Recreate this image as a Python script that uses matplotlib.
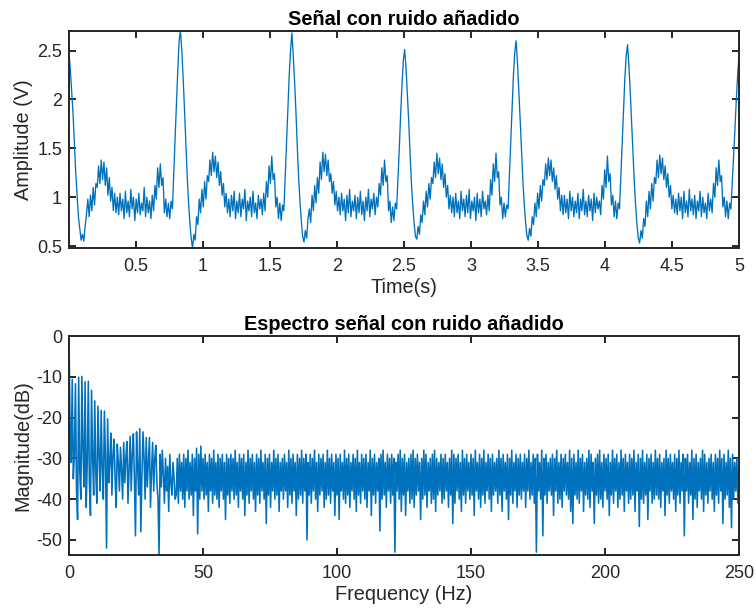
import numpy as np
import matplotlib.pyplot as plt
from matplotlib.ticker import FixedLocator, FormatStrFormatter

# ---- Top panel: noisy ECG, samples 0.01 s apart, one list per heartbeat ----
beat_1 = [2.47, 2.30, 2.08, 1.85, 1.55, 1.25, 1.02, 0.80, 0.68, 0.56, 0.62, 0.55, 0.70,
          0.82, 0.98, 0.80, 1.02, 0.86, 1.10, 0.92, 1.14,
          1.10, 1.32, 1.14, 1.38, 1.18, 1.36, 1.12, 1.30,
          1.02, 1.20, 0.96, 1.10, 0.86, 1.04, 0.84,
          1.00, 0.82, 1.04, 0.86, 0.98, 0.78, 1.06, 0.84, 0.96, 0.80, 1.08, 0.88, 1.00, 0.76,
          0.98, 0.84, 1.04, 0.82, 0.94, 0.86, 1.10, 0.80, 1.00, 0.84, 0.96, 0.78, 1.02, 0.86,
          1.12, 0.98, 1.30, 1.10, 1.34, 1.12, 1.20,
          0.84, 0.98, 0.80, 0.94, 0.78, 0.96, 0.88,
          1.25, 1.60, 1.95, 2.30, 2.60]
beat_2 = [2.70, 2.50, 2.22, 1.90, 1.55, 1.22, 0.95, 0.74, 0.58, 0.48, 0.62, 0.56, 0.80,
          0.72, 0.98, 0.84, 1.08, 0.90, 1.16, 0.98, 1.22,
          1.16, 1.38, 1.22, 1.46, 1.26, 1.42, 1.20, 1.36,
          1.12, 1.26, 1.02, 1.14, 0.90, 1.04, 0.84,
          0.98, 0.80, 1.02, 0.86, 1.06, 0.78, 0.96, 0.84, 1.04, 0.80, 0.98, 0.88, 1.08, 0.76,
          0.96, 0.86, 1.00, 0.80, 1.06, 0.84, 0.94, 0.78, 1.02, 0.88, 0.98, 0.82, 1.04, 0.86,
          1.16, 1.00, 1.32, 1.14, 1.42, 1.18, 1.24,
          0.90, 1.00, 0.78, 0.94, 0.76, 0.92, 0.86,
          1.20, 1.55, 1.90, 2.25, 2.50]
beat_3 = [2.68, 2.45, 2.18, 1.88, 1.52, 1.20, 0.96, 0.76, 0.60, 0.54, 0.66, 0.58, 0.78,
          0.88, 0.74, 1.02, 0.86, 1.12, 0.94, 1.20, 1.04,
          1.36, 1.18, 1.46, 1.26, 1.44, 1.22, 1.38, 1.16,
          1.24, 1.04, 1.16, 0.92, 1.06, 0.86, 1.00,
          0.82, 1.04, 0.86, 0.98, 0.76, 1.02, 0.84, 1.08, 0.80, 0.96, 0.86, 1.02, 0.78, 1.00,
          0.84, 1.06, 0.82, 0.96, 0.76, 1.00, 0.86, 1.08, 0.80, 0.98, 0.88, 1.04, 0.82, 1.00, 0.90,
          1.14, 1.02, 1.30, 1.12, 1.38, 1.16, 1.22,
          0.86, 0.96, 0.74, 0.90, 0.76, 0.94, 0.88,
          1.18, 1.50, 1.85, 2.15, 2.40]
beat_4 = [2.51, 2.32, 2.05, 1.78, 1.45, 1.15, 0.92, 0.74, 0.60, 0.57, 0.70, 0.62, 0.82,
          0.74, 0.96, 0.82, 1.06, 0.90, 1.14, 0.98, 1.20,
          1.14, 1.36, 1.20, 1.45, 1.24, 1.40, 1.18, 1.34,
          1.10, 1.24, 1.00, 1.12, 0.88, 1.02, 0.84,
          1.00, 0.80, 1.04, 0.84, 0.96, 0.78, 1.06, 0.86, 0.98, 0.80, 1.02, 0.84, 1.08, 0.78,
          0.96, 0.86, 1.00, 0.76, 1.04, 0.84, 0.98, 0.80, 1.06, 0.88, 0.96, 0.82, 1.02, 0.86,
          1.18, 1.02, 1.34, 1.16, 1.45, 1.20, 1.26,
          0.92, 1.00, 0.78, 0.94, 0.80, 0.92, 0.88,
          1.22, 1.55, 1.92, 2.25, 2.48]
beat_5 = [2.60, 2.38, 2.10, 1.80, 1.48, 1.18, 0.94, 0.75, 0.61, 0.56, 0.68, 0.60, 0.80,
          0.72, 0.94, 0.80, 1.04, 0.88, 1.12, 0.96, 1.18,
          1.12, 1.34, 1.18, 1.40, 1.22, 1.38, 1.16, 1.30,
          1.08, 1.22, 0.98, 1.10, 0.86, 1.02, 0.82,
          1.02, 0.84, 0.98, 0.78, 1.06, 0.86, 1.00, 0.80, 0.96, 0.84, 1.04, 0.78, 0.98, 0.86,
          1.08, 0.82, 0.96, 0.80, 1.02, 0.86, 0.98, 0.76, 1.04, 0.84, 1.00, 0.88, 0.96, 0.82,
          1.12, 0.98, 1.28, 1.10, 1.42, 1.16, 1.24,
          0.92, 1.02, 0.80, 0.96, 0.78, 0.94, 0.88,
          1.22, 1.55, 1.90, 2.22, 2.45]
beat_6 = [2.56, 2.35, 2.08, 1.78, 1.46, 1.16, 0.92, 0.72, 0.58, 0.53, 0.66, 0.58, 0.78,
          0.70, 0.96, 0.80, 1.06, 0.88, 1.14, 0.96, 1.20,
          1.14, 1.38, 1.20, 1.43, 1.24, 1.40, 1.18, 1.32,
          1.10, 1.24, 1.00, 1.12, 0.88, 1.02, 0.84,
          0.98, 0.82, 1.04, 0.86, 1.00, 0.78, 1.06, 0.84, 0.96, 0.80, 1.08, 0.86, 0.98, 0.82,
          1.02, 0.78, 0.96, 0.86, 1.06, 0.80, 1.00, 0.84, 0.94, 0.78, 1.04, 0.86, 0.98, 0.84,
          1.14, 1.00, 1.30, 1.12, 1.38, 1.16, 1.22,
          0.90, 1.00, 0.80, 0.96, 0.78, 0.94, 0.88,
          1.15, 1.40, 1.70, 2.00, 2.25, 2.45]

amplitude = np.array(beat_1 + beat_2 + beat_3 + beat_4 + beat_5 + beat_6)
time = np.linspace(0.002, 5.0, len(amplitude))

# ---- Bottom panel: magnitude spectrum (dB), bins 0.4 Hz apart ----
spec_low = [  # 0 - 40 Hz, heart-rate harmonics every 1.2 Hz
    0, -24, -31, -10.6, -35, -29, -11.7, -38, -45, -10.1, -33, -40, -9.9, -28, -37, -11.2, -42, -31, -11.1, -36, -44, -13.3, -30, -39, -15.9,
    -34, -41, -17.2, -29, -38, -18.2, -33, -40, -18.4, -30, -52, -20.3, -36, -31, -23.8, -39, -29, -25.3, -35, -42, -26.5, -31, -38, -27.3, -33,
    -40, -26.1, -36, -30, -25.9, -41, -33, -24.6, -38, -29, -24.0, -35, -49, -23.5, -32, -39, -22.7, -48, -34, -23.5, -30, -40, -24.9, -37, -31,
    -24.9, -42, -33, -26.1, -38, -30, -26.8, -36, -40, -53.7, -29, -37, -28, -34, -41, -30, -38, -32, -43, -29, -36, -39, -31, -35, -40,
]
spec_high = [  # 40 - 250 Hz, noise floor
    -39, -30, -41, -29, -38, -31, -40, -29, -42, -30, -38, -28, -40, -31, -39, -29, -44, -30, -38, -27.5, -48.5, -29, -40, -27, -38,
    -30, -40, -29, -39, -31, -43, -29, -38, -30, -41, -28, -39, -31, -40, -29, -42, -30, -38, -29, -40, -31, -45, -29, -39, -30,
    -41, -29, -38, -30, -40, -28, -39, -31, -42, -29, -38, -30, -40, -29, -44, -31, -39, -28, -41, -30, -38, -29, -40, -31, -43,
    -29, -39, -30, -41, -28, -38, -31, -40, -29, -46, -30, -39, -29, -42, -31, -38, -28, -40, -30, -39, -29, -43, -31, -38, -30,
    -40, -29, -38, -31, -42, -28, -39, -30, -41, -29, -38, -31, -44, -29, -40, -30, -39, -28, -41, -30, -38, -29, -50, -31, -39,
    -29, -41, -30, -38, -28, -40, -31, -43, -29, -39, -30, -38, -29, -42, -31, -40, -28, -39, -30, -41, -29, -38, -31, -44, -29,
    -39, -30, -45, -29, -38, -31, -40, -28, -41, -30, -39, -29, -42, -31, -38, -29, -40, -30, -43, -28, -39, -31, -41, -29, -38,
    -30, -40, -29, -42, -31, -38, -28, -44, -30, -39, -29, -41, -31, -38, -30, -47.8, -29, -40, -28, -39, -31, -42, -29, -38, -30,
    -41, -29, -39, -30, -53, -31, -38, -29, -40, -28, -43, -30, -39, -29, -44, -31, -38, -30, -41, -29, -40, -28, -42, -30, -39,
    -29, -38, -31, -45, -30, -40, -28, -39, -29, -42, -31, -38, -30, -41, -29, -40, -28, -43, -30, -39, -31, -38, -29, -41, -30,
    -40, -29, -38, -31, -42, -30, -39, -28, -46, -29, -41, -30, -38, -29, -40, -31, -43, -28, -39, -30, -41, -29, -38, -31, -40,
    -29, -39, -30, -44, -28, -38, -31, -40, -29, -42, -30, -39, -28, -41, -31, -38, -29, -40, -30, -43, -29, -39, -31, -38, -30,
    -41, -28, -39, -30, -43, -29, -38, -31, -40, -29, -45, -30, -39, -28, -41, -31, -38, -29, -42, -30, -39, -29, -40, -31, -38,
    -29, -42, -30, -38, -28, -40, -31, -39, -29, -41, -30, -53, -29, -38, -31, -40, -28, -49, -30, -39, -29, -41, -31, -38, -30,
    -39, -29, -44, -30, -38, -28, -41, -31, -40, -29, -42, -30, -38, -29, -39, -31, -40, -28, -43, -30, -46, -29, -39, -31, -40,
    -28, -41, -30, -38, -29, -43, -31, -39, -30, -40, -28, -42, -29, -38, -31, -46, -30, -39, -29, -41, -28, -40, -31, -42, -29,
    -38, -30, -40, -29, -44, -31, -39, -28, -41, -30, -38, -29, -42, -31, -40, -28, -39, -30, -43, -29, -38, -31, -41, -29, -40,
    -30, -39, -28, -43, -31, -38, -29, -46.7, -30, -40, -28, -41, -31, -39, -29, -45, -30, -38, -29, -41, -31, -40, -28, -39, -30,
    -40, -29, -42, -31, -38, -30, -44, -28, -39, -30, -41, -29, -38, -31, -40, -29, -43, -30, -39, -28, -41, -31, -38, -29, -49,
    -30, -38, -29, -41, -31, -39, -28, -45, -30, -40, -29, -42, -31, -38, -30, -40, -28, -43, -29, -39, -31, -41, -30, -38, -29,
    -40, -31, -43, -29, -39, -30, -41, -28, -38, -30, -46, -29, -40, -31, -39, -28, -42, -30, -47, -29, -40, -31, -38, -30, -41,
    -31,
]
magnitude = np.array(spec_low + spec_high)
freq = np.linspace(0, 250, len(magnitude))

time_ticks = [0.5, 1, 1.5, 2, 2.5, 3, 3.5, 4, 4.5, 5]
amp_ticks = [0.5, 1, 1.5, 2, 2.5]
freq_ticks = [0, 50, 100, 150, 200, 250]
db_ticks = [-50, -40, -30, -20, -10, 0]

LINE = '#0072BD'
DARK = '#262626'

plt.rcParams['font.family'] = ['Liberation Sans', 'DejaVu Sans']
plt.rcParams['axes.unicode_minus'] = False

fig = plt.figure(figsize=(7.56, 6.16), dpi=100)
ax1 = fig.add_axes([0.0913, 0.5974, 0.8862, 0.3523])
ax2 = fig.add_axes([0.0913, 0.0990, 0.8862, 0.3555])


def style(ax):
    for sp in ax.spines.values():
        sp.set_color(DARK)
        sp.set_linewidth(1.4)
    ax.tick_params(direction='in', top=True, right=True, length=5, width=1.4,
                   colors=DARK, labelsize=13)
    ax.tick_params(axis='x', pad=7)
    ax.tick_params(axis='y', pad=5)


ax1.plot(time, amplitude, color=LINE, linewidth=0.95)
ax1.set_xlim(time[0], time[-1])
ax1.set_ylim(amplitude.min(), amplitude.max())
ax1.xaxis.set_major_locator(FixedLocator(time_ticks))
ax1.yaxis.set_major_locator(FixedLocator(amp_ticks))
ax1.xaxis.set_major_formatter(FormatStrFormatter('%g'))
ax1.yaxis.set_major_formatter(FormatStrFormatter('%g'))
ax1.set_xlabel('Time(s)', fontsize=14.3, color=DARK, labelpad=2.5)
ax1.set_ylabel('Amplitude (V)', fontsize=14.3, color=DARK, labelpad=3)
ax1.set_title('Señal con ruido añadido', fontsize=14.3, fontweight='bold', pad=4)
style(ax1)

ax2.plot(freq, magnitude, color=LINE, linewidth=1.15)
ax2.set_xlim(freq[0], freq[-1])
ax2.set_ylim(magnitude.min(), magnitude.max())
ax2.xaxis.set_major_locator(FixedLocator(freq_ticks))
ax2.yaxis.set_major_locator(FixedLocator(db_ticks))
ax2.xaxis.set_major_formatter(FormatStrFormatter('%g'))
ax2.yaxis.set_major_formatter(FormatStrFormatter('%g'))
ax2.set_xlabel('Frequency (Hz)', fontsize=14.3, color=DARK, labelpad=2.5)
ax2.set_ylabel('Magnitude(dB)', fontsize=14.3, color=DARK, labelpad=3)
ax2.set_title('Espectro señal con ruido añadido', fontsize=14.3, fontweight='bold', pad=4)
style(ax2)

fig.savefig('out.png', dpi=100)
